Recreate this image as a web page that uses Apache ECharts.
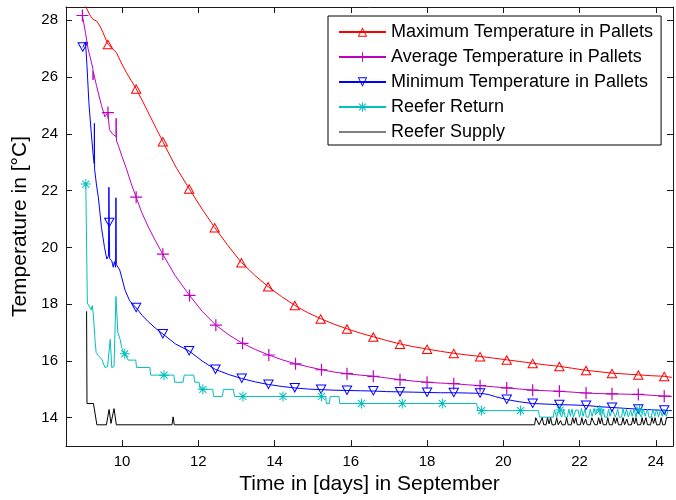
<!DOCTYPE html>
<html>
<head>
<meta charset="utf-8">
<script src="https://cdn.jsdelivr.net/npm/echarts@6/dist/echarts.min.js"></script>
<style>
  html, body { margin: 0; padding: 0; background: #fff; }
  #chart { width: 676px; height: 500px; }
</style>
</head>
<body>
<div id="chart"></div>
<script>
// Tick positions
const xTicks = [10, 12, 14, 16, 18, 20, 22, 24];
const yTicks = [14, 16, 18, 20, 22, 24, 26, 28];

// Series names
const seriesNames = [
  'Maximum Temperature in Pallets',
  'Average Temperature in Pallets',
  'Minimum Temperature in Pallets',
  'Reefer Return',
  'Reefer Supply'
];

// Maximum pallet temperature: line samples [day, degC] and marker samples
const maxTempLine = [
  [8.96, 28.75], [9.06, 28.45], [9.15, 28.2], [9.24, 28.03], [9.33, 27.98], [9.42, 27.8], [9.5, 27.57],
  [9.75, 27.0], [9.85, 26.87], [9.98, 26.5], [10.11, 26.17], [10.24, 25.88], [10.55, 25.12], [10.72, 24.66],
  [10.9, 24.18], [11.25, 23.25], [11.43, 22.79], [11.6, 22.42], [12.1, 21.35], [12.78, 20.06], [13.48, 19.02],
  [14.18, 18.27], [14.87, 17.7], [15.55, 17.3], [16.25, 16.98], [16.94, 16.72], [17.65, 16.5], [18.35, 16.34],
  [19.05, 16.21], [19.74, 16.1], [20.43, 15.98], [21.12, 15.86], [21.82, 15.74], [22.51, 15.62], [23.2, 15.54],
  [23.88, 15.48], [24.42, 15.42]
];
const maxTempMarks = [
  [9.63, 27.16], [10.37, 25.59], [11.07, 23.73], [11.76, 22.07], [12.43, 20.70], [13.13, 19.47], [13.83, 18.62],
  [14.53, 17.96], [15.21, 17.49], [15.90, 17.13], [16.59, 16.85], [17.29, 16.60], [18.00, 16.42], [18.70, 16.27],
  [19.39, 16.16], [20.09, 16.04], [20.77, 15.92], [21.47, 15.81], [22.17, 15.67], [22.85, 15.57], [23.54, 15.51],
  [24.22, 15.46]
];

// Average pallet temperature
const avgTempLine = [
  [9.0, 28.1], [9.04, 27.57], [9.11, 26.99], [9.2, 26.5], [9.235, 26.3], [9.24, 25.9], [9.245, 26.2], [9.33, 25.7],
  [9.46, 25.0], [9.55, 24.6], [9.67, 24.15], [9.75, 24.0], [9.84, 23.9], [9.845, 24.55], [9.855, 23.75], [9.9, 23.6],
  [10.0, 23.2], [10.11, 22.79], [10.24, 22.25], [10.52, 21.22], [10.69, 20.72], [10.88, 20.22], [11.39, 19.01],
  [12.1, 17.75], [12.8, 16.92], [13.5, 16.4], [14.2, 16.04], [14.9, 15.79], [15.56, 15.61], [16.25, 15.5],
  [16.94, 15.4], [17.65, 15.29], [18.35, 15.22], [19.05, 15.16], [19.74, 15.09], [20.43, 15.01], [21.12, 14.95],
  [21.82, 14.9], [22.51, 14.85], [23.2, 14.83], [23.88, 14.79], [24.42, 14.75]
];
const avgTempMarks = [
  [8.96, 28.17], [9.63, 24.75], [10.37, 21.77], [11.07, 19.76], [11.77, 18.31], [12.46, 17.26], [13.16, 16.62],
  [13.85, 16.21], [14.55, 15.90], [15.23, 15.69], [15.90, 15.55], [16.59, 15.46], [17.29, 15.34], [18.00, 15.25],
  [18.70, 15.20], [19.39, 15.13], [20.09, 15.05], [20.77, 14.97], [21.47, 14.93], [22.17, 14.87], [22.85, 14.84],
  [23.54, 14.82], [24.22, 14.76]
];

// Minimum pallet temperature
const minTempLine = [
  [9.0, 27.0], [9.04, 27.24], [9.08, 26.4], [9.13, 25.1], [9.19, 24.08], [9.24, 23.3], [9.27, 22.95], [9.275, 24.37],
  [9.28, 22.75], [9.33, 22.2], [9.38, 21.75], [9.46, 20.7], [9.54, 20.0], [9.6, 19.59], [9.645, 19.7], [9.655, 22.12],
  [9.675, 19.6], [9.73, 19.53], [9.77, 19.3], [9.8, 19.5], [9.83, 19.3], [9.84, 21.75], [9.85, 19.4], [9.88, 19.47],
  [9.94, 19.2], [9.99, 18.95], [10.08, 18.49], [10.2, 18.12], [10.53, 17.6], [10.69, 17.38], [10.88, 17.15],
  [11.4, 16.6], [12.1, 16.0], [12.8, 15.52], [13.5, 15.26], [14.2, 15.1], [14.87, 15.01], [15.56, 14.97],
  [16.25, 14.95], [16.94, 14.92], [17.65, 14.9], [18.35, 14.88], [19.05, 14.87], [19.6, 14.82], [19.8, 14.74],
  [20.43, 14.56], [21.12, 14.48], [21.82, 14.45], [22.51, 14.39], [23.2, 14.33], [23.88, 14.28], [24.42, 14.25]
];
const minTempMarks = [
  [8.97, 27.05], [9.665, 20.87], [10.37, 17.87], [11.07, 16.95], [11.76, 16.35], [12.45, 15.7], [13.14, 15.38],
  [13.84, 15.17], [14.53, 15.05], [15.22, 14.99], [15.9, 14.96], [16.59, 14.94], [17.29, 14.91], [18.0, 14.89],
  [18.7, 14.88], [19.39, 14.86], [20.09, 14.64], [20.77, 14.5], [21.47, 14.46], [22.17, 14.43], [22.85, 14.36],
  [23.54, 14.30], [24.22, 14.26]
];

// Reefer return air
const returnLine = [
  [9.085, 22.2], [9.09, 18.04], [9.14, 18.1], [9.19, 17.8], [9.22, 17.95], [9.25, 17.58], [9.29, 16.76], [9.32, 16.3],
  [9.38, 16.18], [9.47, 16.06], [9.55, 15.77], [9.62, 15.8], [9.69, 16.76], [9.73, 15.77], [9.79, 15.8], [9.84, 18.27],
  [9.89, 17.0], [9.95, 16.76], [9.99, 16.47], [10.16, 16.03], [10.36, 16.03], [10.38, 15.77], [10.73, 15.77],
  [10.75, 15.5], [11.36, 15.5], [11.38, 15.25], [11.6, 15.25], [11.63, 15.5], [11.88, 15.5], [11.91, 15.25],
  [12.02, 15.25], [12.05, 15.0], [12.38, 15.0], [12.40, 14.75], [12.63, 14.75], [12.66, 15.0], [12.92, 15.0],
  [12.95, 14.75], [15.34, 14.75], [15.36, 14.5], [15.44, 14.5], [15.46, 14.75], [15.69, 14.75], [15.71, 14.5],
  [19.30, 14.5], [19.33, 14.25], [20.92, 14.25], [20.95, 14.02], [21.31, 14.02], [21.34, 14.27], [21.40, 14.02],
  [21.45, 14.27], [21.53, 14.02], [21.58, 14.3], [21.62, 14.02], [21.68, 14.02], [21.72, 14.3], [21.76, 14.05],
  [21.8, 14.3], [21.84, 14.02], [21.9, 14.27], [21.96, 14.27], [22.0, 14.02], [22.05, 14.33], [22.09, 14.05],
  [22.14, 14.3], [22.18, 14.02], [22.24, 14.02], [22.28, 14.3], [22.33, 14.05], [22.38, 14.33], [22.42, 14.1],
  [22.46, 14.3], [22.57, 14.02], [22.62, 14.3], [22.66, 14.02], [22.72, 14.02], [22.76, 14.3], [22.8, 14.05],
  [22.85, 14.3], [22.9, 14.3], [22.94, 14.02], [23.0, 14.3], [23.04, 14.02], [23.1, 14.02], [23.14, 14.33],
  [23.18, 14.05], [23.23, 14.3], [23.28, 14.02], [23.34, 14.27], [23.38, 14.05], [23.43, 14.3], [23.48, 14.02],
  [23.53, 14.27], [23.62, 14.02], [23.67, 14.3], [23.72, 14.05], [23.78, 14.3], [23.82, 14.02], [23.88, 14.02],
  [23.92, 14.3], [23.97, 14.05], [24.02, 14.3], [24.07, 14.02], [24.12, 14.27], [24.17, 14.05], [24.22, 14.3],
  [24.27, 14.05], [24.33, 14.27]
];
const returnMarks = [
  [9.05, 22.23], [10.07, 16.25], [11.10, 15.5], [12.12, 15.0], [13.17, 14.75], [14.22, 14.75], [15.23, 14.75],
  [16.28, 14.5], [17.35, 14.5], [18.40, 14.5], [19.43, 14.25], [20.45, 14.25], [21.49, 14.27], [22.53, 14.27],
  [23.57, 14.27]
];

// Reefer supply air
const supplyLine = [
  [9.07, 17.75], [9.08, 14.5], [9.25, 14.5], [9.34, 13.75], [9.59, 13.75], [9.66, 14.29], [9.71, 13.8], [9.79, 14.32],
  [9.85, 13.75], [11.31, 13.75], [11.34, 14.03], [11.37, 13.75], [20.82, 13.75], [20.85, 14.0], [20.9, 14.0],
  [20.94, 13.75], [20.98, 13.75], [21.02, 14.0], [21.06, 13.75], [21.12, 13.75], [21.16, 14.0], [21.2, 13.78],
  [21.24, 14.0], [21.28, 13.75], [21.36, 13.75], [21.4, 14.0], [21.44, 13.75], [21.5, 13.9], [21.54, 13.75],
  [21.62, 13.75], [21.66, 14.0], [21.7, 13.75], [21.78, 13.75], [21.82, 14.0], [21.86, 13.8], [21.9, 14.0],
  [21.94, 13.75], [22.02, 13.75], [22.06, 14.0], [22.1, 13.75], [22.16, 13.95], [22.2, 13.75], [22.28, 13.75],
  [22.32, 14.0], [22.36, 14.0], [22.4, 13.75], [22.46, 13.75], [22.5, 14.0], [22.54, 13.78], [22.58, 14.0],
  [22.62, 13.75], [22.7, 13.75], [22.74, 14.0], [22.78, 13.75], [22.86, 13.75], [22.9, 14.0], [22.94, 13.8],
  [22.98, 14.0], [23.02, 13.75], [23.1, 13.75], [23.14, 14.0], [23.18, 13.75], [23.24, 13.95], [23.28, 13.75],
  [23.36, 13.75], [23.4, 14.0], [23.44, 13.78], [23.48, 14.0], [23.52, 13.75], [23.6, 13.75], [23.64, 14.0],
  [23.68, 13.75], [23.74, 14.0], [23.78, 13.75], [23.86, 13.75], [23.9, 14.0], [23.94, 13.8], [23.98, 14.0],
  [24.02, 13.75], [24.1, 13.75], [24.14, 14.0], [24.18, 13.75], [24.24, 13.75], [24.28, 14.0], [24.33, 14.0]
];
const supplyMarks = [];

// Outline marker shapes (filled rings so the line shows through)
const TRI_UP = 'path://M0,100 L55,0 L110,100 Z M16.9,90 L93.1,90 L55,20.7 Z';
const TRI_DOWN = 'path://M0,0 L110,0 L55,100 Z M16.9,10 L55,79.3 L93.1,10 Z';
const PLUS = 'path://M45,0 H55 V45 H100 V55 H55 V100 H45 V55 H0 V45 H45 Z';
const STAR = 'path://M45,0 H55 V45 H100 V55 H55 V100 H45 V55 H0 V45 H45 Z ' +
             'M11,18 L18,11 L89,82 L82,89 Z M82,11 L89,18 L18,89 L11,82 Z';

const FONT = '"Liberation Sans", Arial, Helvetica, sans-serif';
const AXIS_COLOR = '#1a1a1a';

// Merge line samples with marker samples; third value flags a marker point
function merge(line, marks) {
  return line.map(p => [p[0], p[1], 0])
    .concat(marks.map(p => [p[0], p[1], 1]))
    .sort((a, b) => a[0] - b[0]);
}

function makeSeries(name, color, line, marks, symbol, size) {
  return {
    name: name,
    type: 'line',
    xAxisIndex: 0,
    yAxisIndex: 0,
    data: merge(line, marks),
    symbol: symbol,
    symbolSize: v => (v[2] ? size : 0),
    showSymbol: true,
    showAllSymbol: true,
    clip: true,
    silent: true,
    lineStyle: { color: color, width: 1 },
    itemStyle: { color: color, borderWidth: 0 },
    emphasis: { disabled: true }
  };
}

function valueAxis(pos, min, max, ticks, showLabel, extra) {
  return Object.assign({
    type: 'value',
    position: pos,
    min: min,
    max: max,
    splitLine: { show: false },
    axisLine: { show: true, onZero: false, lineStyle: { color: AXIS_COLOR, width: 1 } },
    axisTick: { show: true, inside: true, length: 6, customValues: ticks, lineStyle: { color: AXIS_COLOR, width: 1 } },
    axisLabel: { show: showLabel, customValues: ticks, color: '#000', fontSize: 15, fontFamily: FONT }
  }, extra || {});
}

const chart = echarts.init(document.getElementById('chart'), null, { renderer: 'canvas' });

chart.setOption({
  animation: false,
  backgroundColor: '#fff',
  grid: { left: 66, right: 3, top: 7, bottom: 50, containLabel: false },
  xAxis: [
    valueAxis('bottom', 8.53, 24.45, xTicks, true, {
      name: 'Time in [days] in September',
      nameLocation: 'middle',
      nameGap: 27,
      nameTextStyle: { color: '#000', fontSize: 21, fontFamily: FONT }
    }),
    valueAxis('top', 8.53, 24.45, xTicks, false)
  ],
  yAxis: [
    valueAxis('left', 13, 28.47, yTicks, true, {
      name: 'Temperature in [°C]',
      nameLocation: 'middle',
      nameGap: 32,
      nameTextStyle: { color: '#000', fontSize: 21, fontFamily: FONT }
    }),
    valueAxis('right', 13, 28.47, yTicks, false)
  ],
  legend: {
    orient: 'vertical',
    left: 328,
    top: 16,
    data: [
      { name: seriesNames[0] },
      { name: seriesNames[1] },
      { name: seriesNames[2] },
      { name: seriesNames[3] },
      { name: seriesNames[4], icon: 'path://M0,0 H200 V4 H0 Z' }
    ],
    itemWidth: 47,
    itemHeight: 12,
    itemGap: 5,
    padding: [6, 8, 3, 10],
    backgroundColor: '#fff',
    borderColor: '#000',
    borderWidth: 1,
    borderRadius: 0,
    selectedMode: false,
    textStyle: { color: '#000', fontSize: 18, fontFamily: FONT, lineHeight: 20 }
  },
  series: [
    makeSeries(seriesNames[0], '#ff0000', maxTempLine, maxTempMarks, TRI_UP, [11, 10]),
    makeSeries(seriesNames[1], '#bf00bf', avgTempLine, avgTempMarks, PLUS, 12),
    makeSeries(seriesNames[2], '#0000ff', minTempLine, minTempMarks, TRI_DOWN, [11, 10]),
    makeSeries(seriesNames[3], '#00bfbf', returnLine, returnMarks, STAR, 10),
    makeSeries(seriesNames[4], '#000000', supplyLine, supplyMarks, 'circle', 0)
  ]
});
</script>
</body>
</html>
